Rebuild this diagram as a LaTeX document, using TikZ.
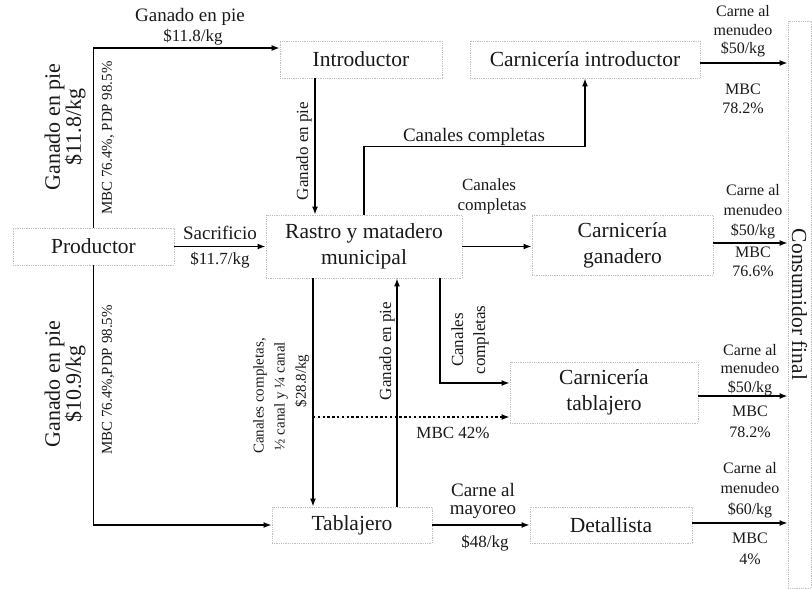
\documentclass[tikz,border=0pt]{standalone}
\usepackage{fontspec}
\setmainfont{Liberation Serif}
\usetikzlibrary{arrows.meta,calc}
\newcommand\FtBox{\fontsize{21.5}{26}\selectfont}
\newcommand\FtBig{\fontsize{22}{21}\selectfont}
\newcommand\FtMid{\fontsize{19}{22}\selectfont}
\newcommand\FtLab{\fontsize{17}{20}\selectfont}
\newcommand\FtSma{\fontsize{15}{18}\selectfont}
\newcommand\FtRgt{\fontsize{16}{18.5}\selectfont}
\begin{document}
\begin{tikzpicture}[x=1pt,y=-1pt,
  box/.style={draw=gray!50, densely dotted, line width=0.8pt, inner sep=0pt, font=\FtBox, align=center, text=black!90},
  conn/.style={line width=1.6pt, -{Latex[length=8pt,width=6pt]}},
  dconn/.style={line width=2.6pt, dash pattern=on 2.4pt off 2.4pt, -{Latex[length=8pt,width=6pt]}},
  lbl/.style={inner sep=0pt, align=center, text=black!90},
]
\useasboundingbox (0,0) rectangle (812,589);

% boxes
\node[box, minimum width=161pt, minimum height=37pt] (prod) at (93.5,246.5) {Productor};
\node[box, minimum width=162pt, minimum height=37pt] (intro) at (361,59.5) {Introductor};
\node[box, minimum width=230pt, minimum height=37pt] (carnintro) at (585,59.5) {Carnicería introductor};
\node[box, minimum width=196pt, minimum height=63pt] (rastro) at (364,246.5) {Rastro y matadero\\municipal};
\node[box, minimum width=181pt, minimum height=60pt] (carnganad) at (622.5,245) {Carnicería\\ganadero};
\node[box, minimum width=188pt, minimum height=61pt] (carntab) at (604,392.5) {Carnicería\\tablajero};
\node[box, minimum width=160pt, minimum height=36pt] (tabla) at (352,525) {Tablajero};
\node[box, minimum width=162pt, minimum height=36pt] (detal) at (611,525) {Detallista};
\node[box, rotate=-90, minimum width=567pt, minimum height=23pt] (cons) at (799.5,304.5) {Consumidor final};

% helper coordinates
\coordinate (xa) at (315,0);
\coordinate (xb) at (313,0);
\coordinate (xc) at (397,0);
\coordinate (xd) at (440,0);
\coordinate (d0) at (313,417);

% connectors
\draw[conn] (prod.north) |- ($(intro.west)+(0,-11.5)$);
\draw[conn] (prod.south) |- (tabla.west);
\draw[conn] (prod.east) -- (rastro.west);
\draw[conn] (intro.south -| xa) -- (rastro.north -| xa);
\draw[conn] (rastro.north) -- ++(0,-68) -| (carnintro.south);
\draw[conn] (rastro.east) -- (rastro.east -| carnganad.west);
\draw[conn] (rastro.south -| xd) |- ($(carntab.west)+(0,-9.5)$);
\draw[conn] (rastro.south -| xb) -- (tabla.north -| xb);
\draw[conn] (tabla.north -| xc) -- (rastro.south -| xc);
\draw[dconn] (d0) -- (d0 -| carntab.west);
\draw[conn] (tabla.east) -- (detal.west);
\draw[conn] ($(carnintro.east)+(0,3.5)$) -- ($(carnintro.east -| cons.south)+(0,3.5)$);
\draw[conn] ($(carnganad.east)+(0,-2)$) -- ($(carnganad.east -| cons.south)+(0,-2)$);
\draw[conn] ($(carntab.east)+(0,3.5)$) -- ($(carntab.east -| cons.south)+(0,3.5)$);
\draw[conn] ($(detal.east)+(0,-2)$) -- ($(detal.east -| cons.south)+(0,-2)$);

% labels: producer branches
\node[lbl, font=\FtMid] (l1) at (190,17) {Ganado en pie};
\node[lbl, font=\FtLab] (l2) at (193,37) {\$11.8/kg};
\node[lbl, font=\FtBig, rotate=90] (l3) at (65,127) {Ganado en pie\\\$11.8/kg};
\node[lbl, font=\FtBig, rotate=90] (l4) at (65,384) {Ganado en pie\\\$10.9/kg};
\node[lbl, font=\FtSma, rotate=90] (l5) at (108,138) {MBC 76.4\%, PDP 98.5\%};
\node[lbl, font=\FtSma, rotate=90] (l6) at (108,380) {MBC 76.4\%,PDP 98.5\%};
\node[lbl, font=\FtMid] (l7) at (220,233) {Sacrificio};
\node[lbl, font=\FtLab] (l8) at (220,260) {\$11.7/kg};

% labels: middle
\node[lbl, font=\FtLab, rotate=90] (l9) at (304,151) {Ganado en pie};
\node[lbl, font=\FtMid] (l10) at (474,137) {Canales completas};
\node[lbl, font=\FtLab] (l11) at (489,185) {Canales};
\node[lbl, font=\FtLab] (l12) at (492,206) {completas};
\node[lbl, font=\FtLab, rotate=90] (l13) at (470,340) {Canales\\[2pt]completas};
\node[lbl, font=\FtSma, rotate=90] (l14) at (260,396) {Canales completas,};
\node[lbl, font=\FtSma, rotate=90] (l15) at (281,396) {½ canal y ¼ canal};
\node[lbl, font=\FtSma, rotate=90] (l16) at (302,381) {\$28.8/kg};
\node[lbl, font=\FtLab, rotate=90] (l17) at (387,351) {Ganado en pie};
\node[lbl, font=\FtLab] (l18) at (453,433) {MBC 42\%};
\node[lbl, font=\FtMid] (l19) at (483,490) {Carne al};
\node[lbl, font=\FtMid] (l20) at (483,512) {mayoreo};
\node[lbl, font=\FtLab] (l21) at (485,543) {\$48/kg};

% labels: right
\node[lbl, font=\FtRgt] (r1) at (743,31.5) {Carne al\\menudeo\\\$50/kg};
\node[lbl, font=\FtRgt] (r2) at (743,99) {MBC\\78.2\%};
\node[lbl, font=\FtRgt] (r3) at (753,212) {Carne al\\[1.5pt]menudeo\\[1.5pt]\$50/kg};
\node[lbl, font=\FtRgt] (r4) at (753,262) {MBC\\76.6\%};
\node[lbl, font=\FtRgt] (r5) at (750,370) {Carne al\\menudeo\\\$50/kg};
\node[lbl, font=\FtRgt] (r6) at (750,422) {MBC\\[2pt]78.2\%};
\node[lbl, font=\FtRgt] (r7) at (750,490) {Carne al\\[2pt]menudeo\\[2pt]\$60/kg};
\node[lbl, font=\FtRgt] (r8) at (750,549) {MBC\\[3pt]4\%};
\end{tikzpicture}
\end{document}
